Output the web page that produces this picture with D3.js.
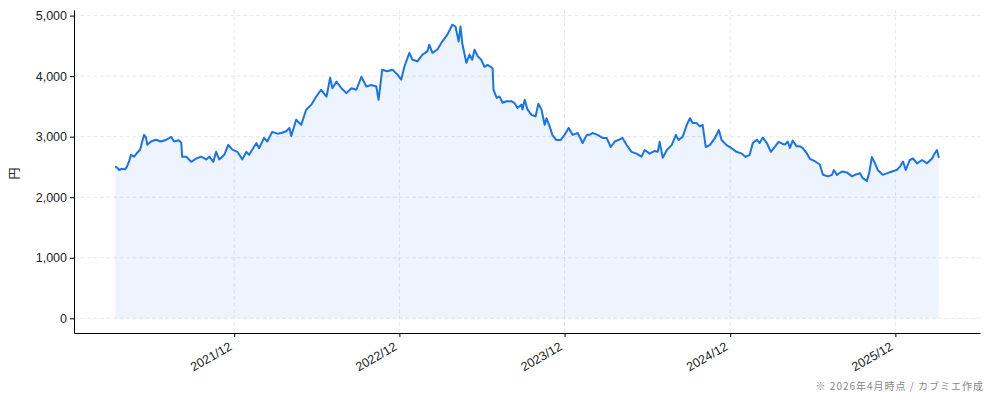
<!DOCTYPE html>
<html>
<head>
<meta charset="utf-8">
<script src="https://cdn.jsdelivr.net/npm/d3@7"></script>
<style>
  body { margin: 0; background: #fff; }
  svg { display: block; font-family: "DejaVu Sans", sans-serif; }
  .grid line { stroke: #e2e2e2; stroke-dasharray: 4,2.5; stroke-width: 0.8; }
  .axis text { fill: #222; font-size: 12.5px; }
  .axis path, .axis line { stroke: #000; }
</style>
</head>
<body>
<svg id="chart" width="994" height="401"></svg>
<script>
const width = 994;
const height = 401;
const margin = { top: 10, right: 14, bottom: 68, left: 74 };

// closing prices (円)
const dates = [
  "2021-03-13","2021-03-17","2021-03-22","2021-03-28","2021-04-04","2021-04-08","2021-04-13","2021-04-17","2021-04-24","2021-04-30",
  "2021-05-07","2021-05-11","2021-05-16","2021-05-20","2021-05-23","2021-05-31","2021-06-11","2021-06-22","2021-07-04","2021-07-15",
  "2021-07-21","2021-08-01","2021-08-06","2021-08-08","2021-08-17","2021-08-28","2021-09-08","2021-09-19","2021-09-30","2021-10-07",
  "2021-10-16","2021-10-22","2021-10-29","2021-11-09","2021-11-18","2021-11-27","2021-12-08","2021-12-19","2021-12-28","2022-01-03",
  "2022-01-19","2022-01-25","2022-02-05","2022-02-12","2022-02-23","2022-03-06","2022-03-15","2022-03-26","2022-04-02","2022-04-06",
  "2022-04-17","2022-04-28","2022-05-09","2022-05-20","2022-05-31","2022-06-11","2022-06-23","2022-07-01","2022-07-06","2022-07-15",
  "2022-07-26","2022-08-06","2022-08-17","2022-08-28","2022-09-08","2022-09-19","2022-09-30","2022-10-11","2022-10-16","2022-10-24",
  "2022-11-04","2022-11-16","2022-11-27","2022-12-05","2022-12-12","2022-12-23","2022-12-30","2023-01-10","2023-01-21","2023-02-01",
  "2023-02-05","2023-02-12","2023-02-23","2023-03-06","2023-03-17","2023-03-28","2023-04-04","2023-04-11","2023-04-15","2023-04-19",
  "2023-04-28","2023-05-05","2023-05-11","2023-05-16","2023-05-23","2023-05-31","2023-06-07","2023-06-14","2023-06-25","2023-06-27",
  "2023-07-04","2023-07-10","2023-07-17","2023-07-26","2023-08-06","2023-08-12","2023-08-19","2023-08-28","2023-08-30","2023-09-04",
  "2023-09-10","2023-09-19","2023-09-28","2023-10-04","2023-10-11","2023-10-18","2023-10-22","2023-10-29","2023-11-04","2023-11-13",
  "2023-11-22","2023-12-01","2023-12-10","2023-12-19","2023-12-30","2024-01-10","2024-01-19","2024-01-25","2024-02-01","2024-02-12",
  "2024-02-23","2024-03-03","2024-03-12","2024-03-21","2024-03-29","2024-04-07","2024-04-16","2024-04-27","2024-05-08","2024-05-19",
  "2024-05-26","2024-06-06","2024-06-17","2024-06-24","2024-06-28","2024-07-05","2024-07-14","2024-07-25","2024-08-03","2024-08-09",
  "2024-08-18","2024-08-27","2024-09-03","2024-09-09","2024-09-18","2024-09-25","2024-10-01","2024-10-08","2024-10-17","2024-10-28",
  "2024-11-06","2024-11-12","2024-11-23","2024-12-04","2024-12-15","2024-12-27","2025-01-04","2025-01-13","2025-01-20","2025-01-29",
  "2025-02-04","2025-02-11","2025-02-20","2025-03-01","2025-03-10","2025-03-18","2025-03-27","2025-04-01","2025-04-07","2025-04-12",
  "2025-04-18","2025-04-27","2025-05-04","2025-05-10","2025-05-19","2025-05-26","2025-06-06","2025-06-17","2025-06-24","2025-07-05",
  "2025-07-14","2025-07-18","2025-07-25","2025-08-05","2025-08-16","2025-08-27","2025-09-03","2025-09-14","2025-09-20","2025-09-29",
  "2025-10-04","2025-10-10","2025-10-17","2025-10-23","2025-11-03","2025-11-12","2025-11-23","2025-12-04","2025-12-11","2025-12-18",
  "2025-12-24","2026-01-02","2026-01-09","2026-01-18","2026-01-29","2026-02-09","2026-02-20","2026-02-26","2026-03-03","2026-03-07"
];

const prices = [
  2510,2490,2450,2470,2460,2505,2600,2700,2670,2730,
  2785,2900,3030,2990,2865,2920,2950,2920,2950,2995,
  2920,2940,2900,2670,2670,2585,2640,2670,2625,2670,
  2585,2750,2625,2700,2865,2785,2750,2625,2750,2700,
  2895,2810,2980,2920,3080,3050,3060,3090,3145,3010,
  3280,3195,3445,3525,3660,3775,3660,3975,3800,3910,
  3800,3720,3800,3775,3990,3830,3855,3830,3610,4105,
  4080,4105,4025,3940,4155,4385,4270,4245,4355,4410,
  4520,4385,4440,4575,4685,4850,4820,4570,4820,4540,
  4220,4355,4270,4435,4330,4270,4155,4185,4130,3775,
  3640,3665,3560,3585,3585,3560,3475,3530,3450,3610,
  3450,3360,3335,3545,3450,3195,3305,3170,3030,2945,
  2945,3030,3145,3030,3060,2895,3030,3030,3060,3030,
  2980,2980,2830,2920,2945,2980,2865,2750,2720,2670,
  2780,2720,2765,2750,2915,2650,2780,2865,3030,2945,
  3000,3195,3305,3225,3225,3170,3195,2830,2860,2975,
  3110,2945,2860,2810,2750,2720,2665,2700,2895,2950,
  2895,2985,2895,2750,2835,2915,2880,2870,2920,2815,
  2935,2840,2840,2815,2730,2635,2595,2540,2370,2345,
  2370,2450,2370,2425,2410,2345,2370,2395,2315,2270,
  2395,2665,2560,2450,2370,2395,2425,2450,2505,2590,
  2450,2615,2640,2560,2615,2560,2640,2725,2780,2650
];

const yTicks = [0, 1000, 2000, 3000, 4000, 5000];
const xTickDates = ["2021-12-01", "2022-12-01", "2023-12-01", "2024-12-01", "2025-12-01"];
const yLabel = "円";
const note = "※ 2026年4月時点 / カブミエ作成";

const parse = d3.timeParse("%Y-%m-%d");
const data = dates.map((d, i) => ({ date: parse(d), value: prices[i] }));

const svg = d3.select("#chart");

// 5% padding like the original
const ext = d3.extent(data, d => d.date);
const span = ext[1] - ext[0];
const x = d3.scaleTime()
  .domain([new Date(+ext[0] - span * 0.05), new Date(+ext[1] + span * 0.05)])
  .range([margin.left, width - margin.right]);

const yMax = d3.max(prices);
const y = d3.scaleLinear()
  .domain([-yMax * 0.05, yMax * 1.05])
  .range([height - margin.bottom, margin.top]);

// Grid
svg.append("g")
  .attr("class", "grid")
  .selectAll("line.h")
  .data(yTicks)
  .join("line")
  .attr("x1", margin.left)
  .attr("x2", width - margin.right)
  .attr("y1", d => y(d))
  .attr("y2", d => y(d));

svg.append("g")
  .attr("class", "grid")
  .selectAll("line.v")
  .data(xTickDates.map(parse))
  .join("line")
  .attr("x1", d => x(d))
  .attr("x2", d => x(d))
  .attr("y1", margin.top)
  .attr("y2", height - margin.bottom);

// Area + line
const area = d3.area()
  .x(d => x(d.date))
  .y0(y(0))
  .y1(d => y(d.value));

const line = d3.line()
  .x(d => x(d.date))
  .y(d => y(d.value));

svg.append("path")
  .datum(data)
  .attr("fill", "#1a73e8")
  .attr("fill-opacity", 0.08)
  .attr("d", area);

svg.append("path")
  .datum(data)
  .attr("fill", "none")
  .attr("stroke", "#1a73e8")
  .attr("stroke-width", 2)
  .attr("stroke-linejoin", "round")
  .attr("d", line);

// Axes
const xAxis = svg.append("g")
  .attr("class", "axis")
  .attr("transform", `translate(0,${height - margin.bottom})`)
  .call(d3.axisBottom(x)
    .tickValues(xTickDates.map(parse))
    .tickFormat(d3.timeFormat("%Y/%m"))
    .tickSize(4)
    .tickSizeOuter(0));

xAxis.selectAll("text")
  .attr("text-anchor", "end")
  .attr("x", 0)
  .attr("y", 0)
  .attr("dy", 0)
  .attr("transform", "translate(-2,16) rotate(-30)");

svg.append("g")
  .attr("class", "axis")
  .attr("transform", `translate(${margin.left},0)`)
  .call(d3.axisLeft(y)
    .tickValues(yTicks)
    .tickFormat(d3.format(","))
    .tickSize(4)
    .tickSizeOuter(0));

// Labels
svg.append("text")
  .attr("transform", `translate(19,${(margin.top + height - margin.bottom) / 2 + 2}) rotate(-90)`)
  .attr("text-anchor", "middle")
  .attr("font-family", "'Noto Sans CJK JP', sans-serif")
  .attr("font-size", 12)
  .attr("fill", "#222")
  .text(yLabel);

svg.append("text")
  .attr("x", 984)
  .attr("y", 390)
  .attr("text-anchor", "end")
  .attr("font-family", "'Noto Sans CJK JP', sans-serif")
  .attr("font-size", 10)
  .attr("letter-spacing", 1)
  .attr("fill", "#888")
  .text(note);
</script>
</body>
</html>
